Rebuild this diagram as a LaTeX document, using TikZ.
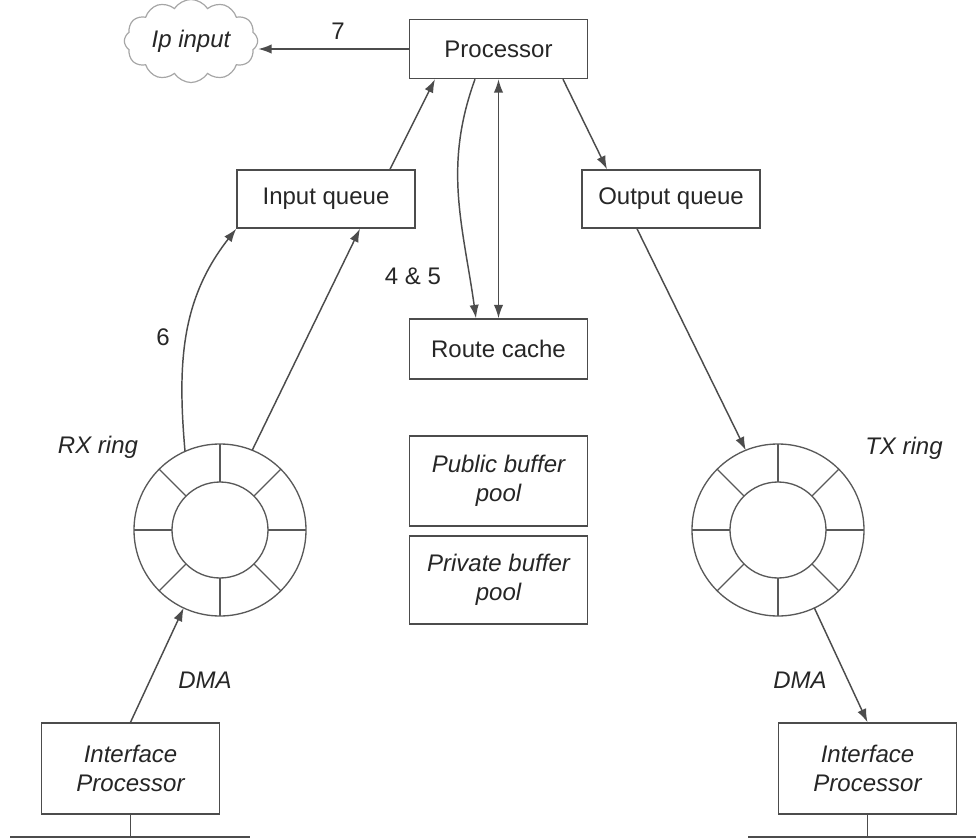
\documentclass[tikz,border=0pt]{standalone}
\usepackage{fontspec}
\setmainfont{Liberation Sans}
\usetikzlibrary{arrows.meta,shapes.symbols,calc}
\begin{document}
\begin{tikzpicture}[x=0.75pt,y=-0.75pt,
 every node/.style={font=\fontsize{18}{22}\selectfont, text=black!85},
 ln/.style={draw=black!70, line width=1.1pt},
 box/.style={ln, rectangle, minimum width=133.5pt, align=center, inner sep=2pt},
 tip/.tip={Latex[length=10pt,width=7pt]},
 arr/.style={ln, -tip},
 ring/.style={circle, draw=black!65, line width=1pt, minimum size=129pt, inner sep=0pt, outer sep=0pt},
 ringline/.style={draw=black!65, line width=1pt},
 lab/.style={font=\fontsize{18}{22}\selectfont\itshape},
 ]
\useasboundingbox (0,0) rectangle (976,839);

% boxes
\node[box, minimum height=44.25pt] (proc) at (498.5,49) {Processor};
\node[cloud, cloud puffs=12, cloud puff arc=115, draw=black!35, line width=0.9pt,
      minimum width=100pt, minimum height=48pt, aspect=1.6, inner sep=0pt, lab] (cloud) at (191,41) {Ip input};
\node[box, minimum height=43.5pt] (inq) at (326,199) {Input queue};
\node[box, minimum height=43.5pt] (outq) at (671,199) {Output queue};
\node[box, minimum height=45pt] (rc) at (498.5,349) {Route cache};
\node[box, minimum height=67.5pt, lab] (pub) at (498.5,481) {Public buffer\\pool};
\node[box, minimum height=66pt, lab] (priv) at (498.5,580) {Private buffer\\pool};
\node[box, minimum height=68.25pt, lab] (ifl) at (130.5,768.5) {Interface\\Processor};
\node[box, minimum height=68.25pt, lab] (ifr) at (867.5,768.5) {Interface\\Processor};

% rings
\node[ring] (rx) at (220,530) {};
\node[ring] (tx) at (778,530) {};
\foreach \r in {rx,tx}{
  \draw[ringline] (\r.center) circle[radius=36pt];
  \foreach \a in {0,45,...,315}
    \draw[ringline] ($(\r.center)+(\a:48)$) -- ($(\r.center)+(\a:86)$);
}

% connectors
\draw[arr] (proc.west) -- (proc.west -| cloud.east);
\draw[arr] ($(inq.north)+(64,0)$) -- ($(proc.south)+(-63.5,0)$);
\draw[arr] ($(proc.south)+(-23.5,0)$) to[out=250,in=98] ($(rc.north)+(-22.5,0)$);
\draw[ln, tip-tip] (proc.south) -- (rc.north);
\draw[arr] ($(proc.south)+(64.5,0)$) -- ($(outq.north)+(-64,0)$);
\draw[arr] (rx.68) -- ($(inq.south)+(34,0)$);
\draw[arr] (rx.114) to[out=95,in=232] (inq.south west);
\draw[arr] ($(outq.south)+(-34,0)$) -- (tx.112);
\draw[arr] (tx.-65) -- (ifr.north);
\draw[arr] (ifl.north) -- (rx.245);

% bottom bus lines
\coordinate (bl1) at (10,837);
\coordinate (bl2) at (250,837);
\coordinate (br1) at (748,837);
\coordinate (br2) at (976,837);
\draw[ln] (ifl.south) -- (ifl.south |- bl1);
\draw[ln] (bl1) -- (bl2);
\draw[ln] (ifr.south) -- (ifr.south |- br1);
\draw[ln] (br1) -- (br2);

% labels
\node (l7) at (338,31) {7};
\node (l45) at (413,276) {4 \& 5};
\node (l6) at (163,337) {6};
\node[lab] (dmal) at (205,680) {DMA};
\node[lab] (dmar) at (800,680) {DMA};
\node[lab] (rxl) at (98,447) {RX ring};
\node[lab] (txl) at (904,448) {TX ring};
\end{tikzpicture}
\end{document}
